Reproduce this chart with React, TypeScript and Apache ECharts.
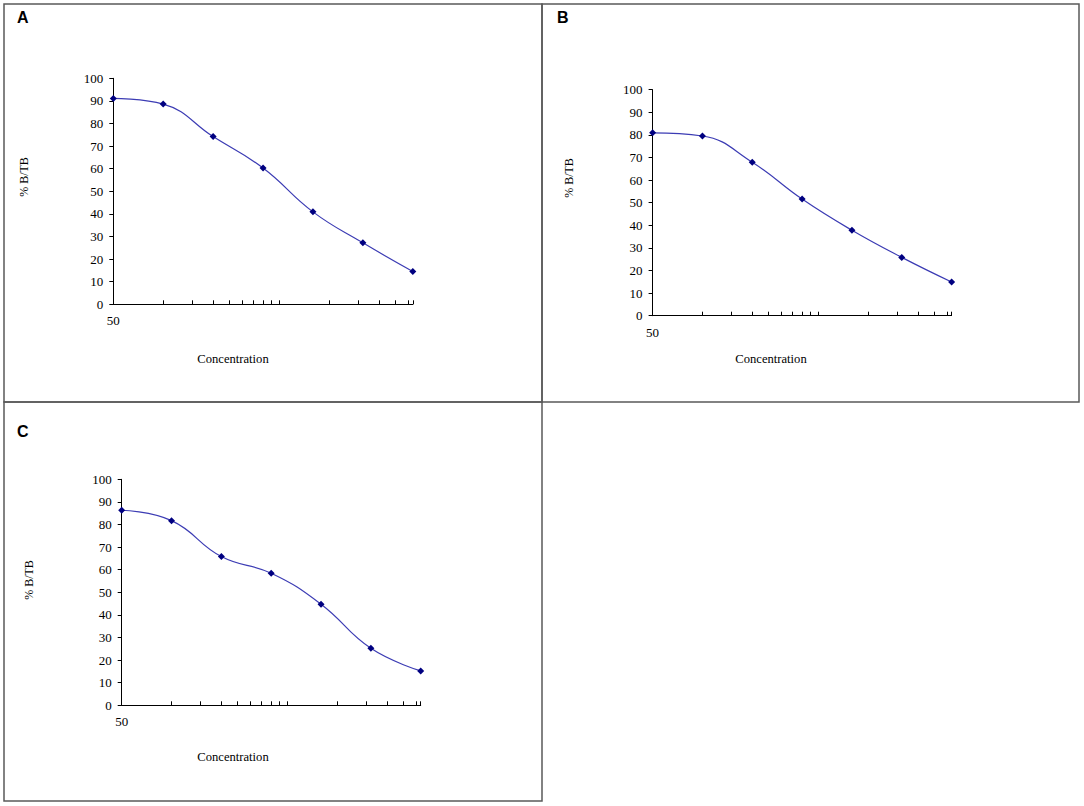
import React, { useEffect, useRef } from "react";
import * as echarts from "echarts";

// ---- Data ----
const concentrations = [50, 100, 200, 400, 800, 1600, 3200];
const seriesA = [91.1, 88.6, 74.2, 60.3, 40.9, 27.2, 14.5];
const seriesB = [80.9, 79.5, 67.9, 51.6, 37.8, 25.8, 14.9];
const seriesC = [86.3, 81.7, 65.8, 58.4, 44.7, 25.2, 15.2];
const panelLetters = ["A", "B", "C"];
const xTickValues = [100, 150, 200, 250, 300, 350, 400, 450, 500, 1000, 1500, 2000, 2500, 3000, 3200];
const xLabelValues = [50];
const yAxisTitle = "% B/TB";
const xAxisTitle = "Concentration";

const SERIF = "'Liberation Serif', 'Times New Roman', serif";
const SANS = "'Liberation Sans', Arial, sans-serif";

const grids = [
  { left: 113.3, top: 78.3, width: 299.5, height: 226 },
  { left: 652.6, top: 89.7, width: 299, height: 226 },
  { left: 121.7, top: 479.3, width: 299, height: 226 },
];
const yTitlePos = [
  [24.2, 177],
  [568.6, 178],
  [28.5, 580],
];
const xTitlePos = [
  [233, 359],
  [771, 359],
  [233, 757],
];
const letterPos = [
  [17, 9],
  [557, 9],
  [17, 423],
];
const frames = [
  { x: 4, y: 4, width: 538, height: 398 },
  { x: 542, y: 4, width: 537, height: 398 },
  { x: 4, y: 402, width: 538, height: 399 },
];

export default function App() {
  const ref = useRef<HTMLDivElement>(null);

  useEffect(() => {
    if (!ref.current) return;
    const chart = echarts.init(ref.current, undefined, { renderer: "svg" });
    const allSeries = [seriesA, seriesB, seriesC];

    const option: any = {
      animation: false,
      backgroundColor: "#ffffff",
      grid: grids.map((g) => ({ ...g, containLabel: false })),
      xAxis: grids.map((_, i) => ({
        type: "log",
        logBase: 10,
        gridIndex: i,
        min: 50,
        max: 3200,
        axisLine: { show: true, lineStyle: { color: "#000", width: 1 } },
        axisTick: {
          show: true,
          inside: true,
          length: 4,
          customValues: xTickValues,
          lineStyle: { color: "#000", width: 1 },
        },
        axisLabel: {
          show: true,
          customValues: xLabelValues,
          margin: 10,
          color: "#000",
          fontFamily: SERIF,
          fontSize: 13,
        },
        splitLine: { show: false },
        minorTick: { show: false },
      })),
      yAxis: grids.map((_, i) => ({
        type: "value",
        gridIndex: i,
        min: 0,
        max: 100,
        interval: 10,
        axisLine: { show: true, lineStyle: { color: "#000", width: 1 } },
        axisTick: { show: true, inside: false, length: 4, lineStyle: { color: "#000", width: 1 } },
        axisLabel: {
          margin: 10,
          color: "#000",
          fontFamily: SERIF,
          fontSize: 13,
        },
        splitLine: { show: false },
      })),
      series: allSeries.map((vals, i) => ({
        type: "line",
        name: panelLetters[i],
        xAxisIndex: i,
        yAxisIndex: i,
        data: concentrations.map((c, j) => [c, vals[j]]),
        smooth: 0.45,
        symbol: "diamond",
        symbolSize: 7,
        itemStyle: { color: "#000080" },
        lineStyle: { color: "#3c3cb4", width: 1.2 },
        emphasis: { disabled: true },
      })),
      graphic: [
        ...frames.map((f) => ({
          type: "rect",
          shape: { x: f.x, y: f.y, width: f.width, height: f.height },
          style: { fill: "none", stroke: "#5a5a5a", lineWidth: 1.5 },
          silent: true,
          z: -1,
        })),
        ...panelLetters.map((t, i) => ({
          type: "text",
          x: letterPos[i][0],
          y: letterPos[i][1],
          style: {
            text: t,
            fontFamily: SANS,
            fontWeight: "bold",
            fontSize: 16,
            fill: "#000",
            textAlign: "left",
            textVerticalAlign: "top",
          },
        })),
        ...yTitlePos.map((p) => ({
          type: "text",
          x: p[0],
          y: p[1],
          rotation: Math.PI / 2,
          style: {
            text: yAxisTitle,
            fontFamily: SERIF,
            fontSize: 12,
            fill: "#000",
            textAlign: "center",
            textVerticalAlign: "middle",
          },
        })),
        ...xTitlePos.map((p) => ({
          type: "text",
          x: p[0],
          y: p[1],
          style: {
            text: xAxisTitle,
            fontFamily: SERIF,
            fontSize: 12.6,
            fill: "#000",
            textAlign: "center",
            textVerticalAlign: "middle",
          },
        })),
      ],
    };

    chart.setOption(option);
    return () => chart.dispose();
  }, []);

  return (
    <div
      ref={ref}
      style={{ position: "absolute", left: 0, top: 0, width: 1084, height: 806, background: "#fff" }}
    />
  );
}
